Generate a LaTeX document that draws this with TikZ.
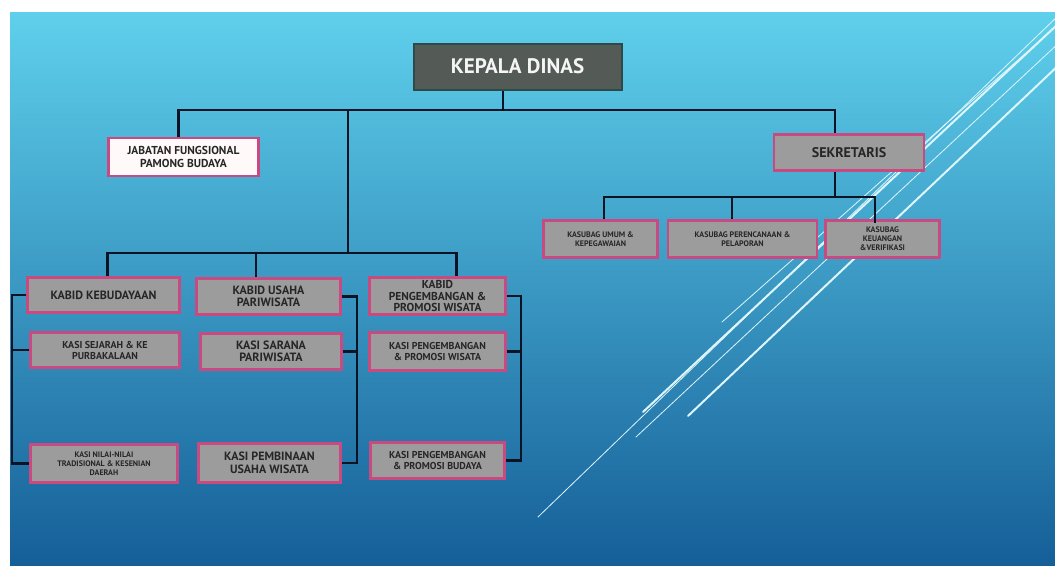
\documentclass[tikz,border=0pt]{standalone}
\usepackage{fontspec}
\setmainfont{PT Sans}
\usepackage{tikz}
\usetikzlibrary{positioning}

\definecolor{bgtop}{HTML}{5FD0EC}
\definecolor{bgmid}{HTML}{3398C9}
\definecolor{bgbottom}{HTML}{155F98}
\definecolor{boxgray}{HTML}{9C9C9C}
\definecolor{boxpink}{HTML}{C94A80}
\definecolor{headfill}{HTML}{545B57}
\definecolor{headedge}{HTML}{2E4A46}
\definecolor{linkcol}{HTML}{0A1424}
\definecolor{streakcol}{HTML}{DDF6FC}

\begin{document}
\begin{tikzpicture}[
    x=1pt, y=-1pt,
    unit/.style={rectangle, draw=boxpink, line width=2.4pt, fill=boxgray, align=center, inner sep=1pt, text=black!85, font=\bfseries\fontsize{12}{12.5}\selectfont},
    unitsmall/.style={unit, font=\bfseries\fontsize{10}{11}\selectfont},
    unittiny/.style={unit, font=\bfseries\fontsize{8}{9}\selectfont},
    jabatan/.style={unit, fill=white!90!pink, font=\bfseries\fontsize{11.5}{12.5}\selectfont},
    kepala/.style={rectangle, draw=headedge, line width=2pt, fill=headfill, text=white!92!gray, font=\bfseries\fontsize{21}{24}\selectfont},
    link/.style={draw=linkcol, line width=2.6pt},
    streak/.style={draw=streakcol, line cap=round}
]
    % --- BACKGROUND ---
    \fill[white] (0,0) rectangle (1055,565);
    \useasboundingbox (0,0) rectangle (1055,565);
    \shade[top color=bgtop, middle color=bgmid, bottom color=bgbottom] (10,12) rectangle (1055,565);
    \begin{scope}
        \clip (10,12) rectangle (1055,565);
        \draw[streak, line width=0.8pt] (538,517) -- (1062,12);
        \draw[streak, line width=0.8pt] (722,322) -- (1052,30);
        \draw[streak, line width=0.8pt] (636,437) -- (1062,40);
        \draw[streak, line width=2pt] (643,412) -- (1058,24);
        \draw[streak, line width=2pt] (688,416) -- (1062,62);
    \end{scope}

    % --- TOP LEVEL ---
    \node[kepala, minimum width=208pt, minimum height=46pt] (KepalaDinas) at (517.5,66.5) {KEPALA DINAS};
    \node[jabatan, minimum width=150pt, minimum height=38pt] (Jabatan) at (183.5,157) {JABATAN FUNGSIONAL\\PAMONG BUDAYA};
    \node[unit, minimum width=150pt, minimum height=36pt, font=\bfseries\fontsize{14}{16}\selectfont] (Sekretaris) at (849,152.5) {SEKRETARIS};

    % --- SEKRETARIAT ---
    \node[unittiny, minimum width=114pt, minimum height=37pt] (KasubagUmum) at (600.5,239) {KASUBAG UMUM \&\\KEPEGAWAIAN};
    \node[unittiny, minimum width=149pt, minimum height=37pt] (KasubagRencana) at (742.5,239) {KASUBAG PERENCANAAN \&\\PELAPORAN};
    \node[unittiny, minimum width=114pt, minimum height=37pt] (KasubagKeuangan) at (882.5,239) {KASUBAG\\KEUANGAN\\\&VERIFIKASI};

    % --- BIDANG ---
    \node[unit, minimum width=152pt, minimum height=35pt] (KabidBudaya) at (103.5,295) {KABID KEBUDAYAAN};
    \node[unit, minimum width=144pt, minimum height=36pt] (KabidUsaha) at (268.5,296.5) {KABID USAHA\\PARIWISATA};
    \node[unit, minimum width=136pt, minimum height=37pt, font=\bfseries\fontsize{11.5}{11.5}\selectfont] (KabidPromosi) at (437.5,296) {KABID\\PENGEMBANGAN \&\\PROMOSI WISATA};

    % --- SEKSI ---
    \node[unitsmall, minimum width=149pt, minimum height=35pt] (KasiSejarah) at (105,350) {KASI SEJARAH \& KE\\PURBAKALAAN};
    \node[unit, minimum width=141pt, minimum height=36pt] (KasiSarana) at (271,351.5) {KASI SARANA\\PARIWISATA};
    \node[unitsmall, minimum width=136pt, minimum height=38pt] (KasiPromosiWisata) at (437.5,351.5) {KASI PENGEMBANGAN\\\& PROMOSI WISATA};
    \node[unittiny, minimum width=147pt, minimum height=38pt] (KasiNilai) at (104,463.5) {KASI NILAI-NILAI\\TRADISIONAL \& KESENIAN\\DAERAH};
    \node[unit, minimum width=142pt, minimum height=39pt] (KasiPembinaan) at (269.5,463) {KASI PEMBINAAN\\USAHA WISATA};
    \node[unitsmall, minimum width=134pt, minimum height=36pt] (KasiPromosiBudaya) at (437.5,460.5) {KASI PENGEMBANGAN\\\& PROMOSI BUDAYA};

    % ================= CONNECTORS =================
    \coordinate (TopHub) at (503,110);
    \coordinate (BidHub) at (348,253);
    \coordinate (UsahaDrop) at (256,253);
    \coordinate (SekHub) at (835,197);
    \coordinate (RencanaDrop) at (732,197);
    \coordinate (BudayaRail) at (12,350);
    \coordinate (UsahaRail) at (357,351.5);
    \coordinate (PromosiRail) at (521,351.5);

    % Kepala Dinas to first level
    \draw[link] (KepalaDinas.south -| TopHub) -- (TopHub);
    \draw[link] ([xshift=-5pt]Jabatan.north) |- (TopHub) -| ([xshift=-14pt]Sekretaris.north);
    \draw[link] (TopHub -| BidHub) -- (BidHub);

    % Sekretariat
    \draw[link] (Sekretaris.south -| SekHub) -- (SekHub);
    \draw[link] ([xshift=3.5pt]KasubagUmum.north) |- (SekHub) -| ([xshift=-7.5pt,yshift=-4pt]KasubagKeuangan.north);
    \draw[link] (RencanaDrop) -- (RencanaDrop |- KasubagRencana.north);

    % Bidang
    \draw[link] ([xshift=4pt]KabidBudaya.north) |- (BidHub) -| ([xshift=19pt]KabidPromosi.north);
    \draw[link] (UsahaDrop) -- (UsahaDrop |- KabidUsaha.north);

    % Seksi rails
    \draw[link] (KabidBudaya.west) -| (BudayaRail |- KasiNilai.west) -- (KasiNilai.west);
    \draw[link] (KasiSejarah.west) -- (KasiSejarah.west -| BudayaRail);
    \draw[link] (KabidUsaha.east) -| (UsahaRail |- KasiPembinaan.east) -- (KasiPembinaan.east);
    \draw[link] (KasiSarana.east) -- (UsahaRail);
    \draw[link] (KabidPromosi.east) -| (PromosiRail |- KasiPromosiBudaya.east) -- (KasiPromosiBudaya.east);
    \draw[link] (KasiPromosiWisata.east) -- (PromosiRail);

\end{tikzpicture}
\end{document}
